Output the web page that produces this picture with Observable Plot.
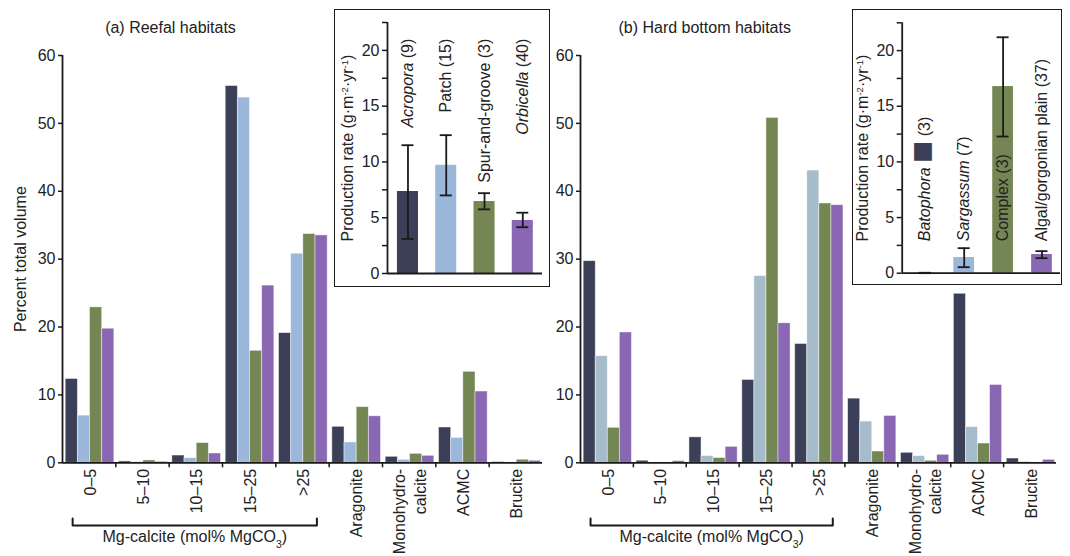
<!DOCTYPE html>
<html><head><meta charset="utf-8">
<script src="https://cdn.jsdelivr.net/npm/d3@7"></script>
<script src="https://cdn.jsdelivr.net/npm/@observablehq/plot@0.6"></script>
<style>
body{margin:0;background:#fff;}
#wrap{position:relative;width:1070px;height:556px;overflow:hidden;font-family:"Liberation Sans",Arial,Helvetica,sans-serif;color:#222;background:#fff;}
.abs{position:absolute;}
.title{font-size:16px;line-height:16px;white-space:nowrap;transform:translateX(-50%);}
.box{border:1.6px solid #1a1a1a;background:#fff;box-sizing:border-box;}
</style></head><body><div id="wrap"></div>
<script>
// ---------- data ----------
const categories = ["0–5","5–10","10–15","15–25",">25","Aragonite","Monohydro-\ncalcite","ACMC","Brucite"];
const mgCalciteLabel = "Mg-calcite (mol% MgCO~3~)";
const yTicks = [0,10,20,30,40,50,60];

const reefalSeries = ["Acropora","Patch","Spur-and-groove","Orbicella"];
const reefalAcropora  = [12.35,0.2,1.07,55.5,19.1,5.3,0.88,5.2,0.1];
const reefalPatch     = [6.95,0.1,0.68,53.8,30.8,3.0,0.44,3.67,0.05];
const reefalSpur      = [22.9,0.35,2.9,16.5,33.7,8.2,1.32,13.4,0.45];
const reefalOrbicella = [19.75,0.15,1.37,26.1,33.5,6.85,1.03,10.5,0.3];

const hardSeries = ["Batophora","Sargassum","Complex","Algal/gorgonian plain"];
const hardBatophora = [29.7,0.3,3.75,12.2,17.5,9.45,1.47,24.9,0.63];
const hardSargassum = [15.7,0.05,1.0,27.5,43.05,6.07,0.98,5.25,0.15];
const hardComplex   = [5.15,0.05,0.7,50.8,38.2,1.66,0.3,2.84,0.05];
const hardAlgal     = [19.2,0.25,2.35,20.55,37.95,6.9,1.18,11.47,0.44];

const insetTicks = [0,2.5,5,7.5,10,12.5,15,17.5,20,22.5];
const insetTitle = "Production rate (g·m^-2^·yr^-1^)";

const reefalInsetLabels = ["*Acropora* (9)","Patch (15)","Spur-and-groove (3)","*Orbicella* (40)"];
const reefalRate     = [7.35,9.7,6.45,4.75];
const reefalRateLow  = [3.1,7.0,5.75,4.15];
const reefalRateHigh = [11.5,12.4,7.2,5.45];

const hardInsetLabels = ["*Batophora* ■ (3)","*Sargassum* (7)","Complex (3)","Algal/gorgonian plain (37)"];
const hardRate     = [0.02,1.41,16.77,1.68];
const hardRateLow  = [0.0,0.54,12.28,1.35];
const hardRateHigh = [0.04,2.25,21.2,1.98];

// ---------- styles ----------
const ink = "#1a1a1a";
const cDark = "#3b3f57", cBlue = "#9bb8db", cGreyBlue = "#a7bccb", cGreen = "#748653", cPurple = "#8a67b3";
const FONT = "Liberation Sans, Arial, Helvetica, sans-serif";
const baseStyle = {fontFamily: FONT, fontSize: "16px", color: "#222", background: "none", overflow: "visible"};

const wrap = document.getElementById("wrap");
function place(el, left, top) { el.style.position = "absolute"; el.style.left = left + "px"; el.style.top = top + "px"; wrap.appendChild(el); return el; }

// ---------- main panels ----------
function mainChart({width, marginLeft, marginRight, series, colors, values, yLabel}) {
  const rows = [];
  values.forEach((arr, s) => arr.forEach((v, g) => rows.push({g, s, v, series: series[s]})));
  const barStart = 0.06, barW = 0.228;
  const marks = [
    Plot.rectY(rows, {x1: d => d.g + barStart + d.s * barW, x2: d => d.g + barStart + (d.s + 1) * barW,
      y1: 0, y2: "v", fill: "series", stroke: "#fff", strokeOpacity: 0.55, strokeWidth: 0.8}),
    Plot.ruleY([0], {stroke: ink, strokeWidth: 1.8}),
    Plot.ruleX([0], {stroke: ink, strokeWidth: 1.8}),
    Plot.axisY({ticks: yTicks, tickSize: 4, tickPadding: 3, strokeWidth: 1.5, stroke: ink, fontSize: 16, label: null}),
    Plot.axisX({ticks: d3.range(1, categories.length), tickSize: 5, tickFormat: () => "", strokeWidth: 1.5, stroke: ink, label: null}),
    Plot.text(categories, {x: (d, i) => i + 0.5, y: 0, dy: 6, rotate: -90, textAnchor: "end", lineHeight: 1.3, fontSize: 16, fill: "#222"}),
    // bracket under the Mg-calcite classes
    Plot.line([{x: 0.19, y: -8.2}, {x: 0.19, y: -9.23}, {x: 4.77, y: -9.23}, {x: 4.77, y: -8.2}],
      {x: "x", y: "y", stroke: ink, strokeWidth: 2, curve: "linear"}),
    Plot.text([mgCalciteLabel], {x: 2.48, y: -10.9, fontSize: 16, fill: "#222"})
  ];
  if (yLabel) marks.push(Plot.text([yLabel], {frameAnchor: "left", textAnchor: "middle", dx: -42, rotate: -90, fontSize: 16, fill: "#222"}));
  return Plot.plot({
    width, height: 556, marginLeft, marginRight, marginTop: 55, marginBottom: 93.7,
    x: {domain: [0, 9], axis: null},
    y: {domain: [0, 60], axis: null},
    color: {domain: series, range: colors},
    style: baseStyle,
    marks
  });
}

// ---------- insets ----------
function insetChart({width, height, marginLeft, marginRight, marginTop, marginBottom, xMax, center, halfW,
                     labels, colors, rate, low, high, labelY, labelAnchor, titleDx}) {
  const rows = labels.map((l, i) => ({i, l, r: rate[i], lo: low[i], hi: high[i]}));
  const capHW = 6 / ((width - marginLeft - marginRight) / xMax);
  const caps = rows.flatMap(d => [{i: d.i, v: d.lo}, {i: d.i, v: d.hi}]);
  return Plot.plot({
    width, height, marginLeft, marginRight, marginTop, marginBottom,
    x: {domain: [0, xMax], axis: null},
    y: {domain: [0, 22.5], axis: null},
    color: {domain: labels, range: colors},
    style: baseStyle,
    marks: [
      Plot.rectY(rows, {x1: d => d.i + center - halfW, x2: d => d.i + center + halfW, y1: 0, y2: "r", fill: "l"}),
      Plot.ruleX(rows, {x: d => d.i + center, y1: "lo", y2: "hi", stroke: ink, strokeWidth: 1.8}),
      Plot.ruleY(caps, {y: "v", x1: d => d.i + center - capHW, x2: d => d.i + center + capHW, stroke: ink, strokeWidth: 1.8}),
      Plot.ruleY([0], {stroke: ink, strokeWidth: 1.8}),
      Plot.ruleX([0], {stroke: ink, strokeWidth: 1.8}),
      Plot.axisY({ticks: insetTicks, tickSize: 5, tickPadding: 3, strokeWidth: 1.5, stroke: ink, fontSize: 16,
        tickFormat: d => (d % 5 === 0 ? String(d) : ""), label: null}),
      Plot.text(rows, {x: d => d.i + center, y: labelY, text: "l", rotate: -90, textAnchor: labelAnchor, fontSize: 16, fill: "#222"}),
      Plot.text([insetTitle], {frameAnchor: "left", textAnchor: "middle", dx: titleDx, rotate: -90, fontSize: 16, fill: "#222"})
    ]
  });
}

// ---------- rich text (italic / super / subscript) ----------
const NS = "http://www.w3.org/2000/svg";
function richify(el) {
  const s = el.textContent;
  if (!/[\*\^~■]/.test(s)) return;
  el.textContent = "";
  let it = false, sup = false, sub = false, buf = "";
  const flush = () => {
    if (!buf) return;
    const ts = document.createElementNS(NS, "tspan");
    ts.textContent = buf;
    if (it) ts.setAttribute("font-style", "italic");
    if (sup) { ts.setAttribute("baseline-shift", "super"); ts.setAttribute("font-size", "0.6em"); }
    if (sub) { ts.setAttribute("baseline-shift", "sub"); ts.setAttribute("font-size", "0.65em"); }
    el.appendChild(ts); buf = "";
  };
  for (const ch of s) {
    if (ch === "*") { flush(); it = !it; }
    else if (ch === "^") { flush(); sup = !sup; }
    else if (ch === "~") { flush(); sub = !sub; }
    else if (ch === "■") {
      flush();
      const ts = document.createElementNS(NS, "tspan");
      ts.textContent = "■"; ts.setAttribute("fill", cDark); ts.setAttribute("font-size", "2.3em");
      ts.setAttribute("baseline-shift", "-0.1em");
      el.appendChild(ts);
    } else buf += ch;
  }
  flush();
}

// ---------- build ----------
const a = mainChart({width: 545, marginLeft: 62, marginRight: 3, series: reefalSeries,
  colors: [cDark, cBlue, cGreen, cPurple],
  values: [reefalAcropora, reefalPatch, reefalSpur, reefalOrbicella], yLabel: "Percent total volume"});
place(a, 0, 0);

const b = mainChart({width: 525, marginLeft: 35, marginRight: 14, series: hardSeries,
  colors: [cDark, cGreyBlue, cGreen, cPurple],
  values: [hardBatophora, hardSargassum, hardComplex, hardAlgal], yLabel: null});
place(b, 545, 0);

// inset (a)
const boxA = document.createElement("div"); boxA.className = "box";
boxA.style.width = "215.6px"; boxA.style.height = "277.6px";
place(boxA, 334.2, 9.2);
const ia = insetChart({width: 214, height: 276, marginLeft: 52, marginRight: 7, marginTop: 12, marginBottom: 13,
  xMax: 4.05, center: 0.535, halfW: 0.275, labels: reefalInsetLabels, colors: [cDark, cBlue, cGreen, cPurple],
  rate: reefalRate, low: reefalRateLow, high: reefalRateHigh, labelY: 21.05, labelAnchor: "end", titleDx: -40});
place(ia, 335, 10);

// inset (b)
const boxB = document.createElement("div"); boxB.className = "box";
boxB.style.width = "209.9px"; boxB.style.height = "275.6px";
place(boxB, 851.9, 9.2);
const ib = insetChart({width: 208, height: 274, marginLeft: 48.7, marginRight: 1, marginTop: 12.3, marginBottom: 11.3,
  xMax: 4.07, center: 0.594, halfW: 0.266, labels: hardInsetLabels, colors: [cDark, cBlue, cGreen, cPurple],
  rate: hardRate, low: hardRateLow, high: hardRateHigh, labelY: 2.87, labelAnchor: "start", titleDx: -39});
place(ib, 853, 10);

// titles
const tA = document.createElement("div"); tA.className = "title"; tA.textContent = "(a) Reefal habitats";
place(tA, 170.5, 19.5);
const tB = document.createElement("div"); tB.className = "title"; tB.textContent = "(b) Hard bottom habitats";
place(tB, 704.7, 19.5);

wrap.querySelectorAll("svg text").forEach(t => { if (!t.querySelector("tspan")) richify(t); });
</script></body></html>
